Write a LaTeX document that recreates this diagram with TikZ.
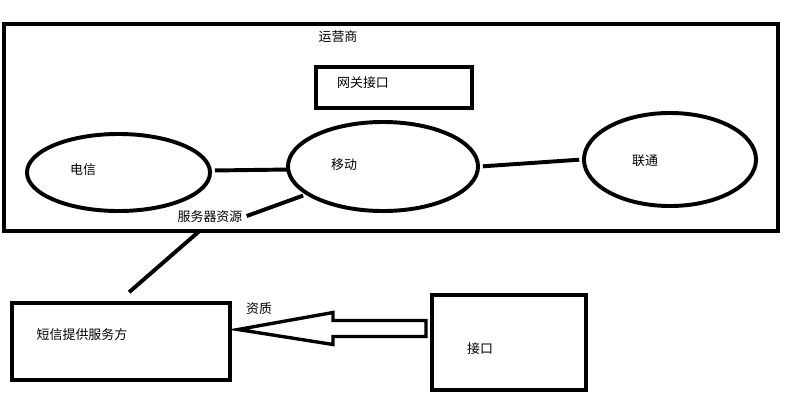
\documentclass[tikz,border=0pt]{standalone}
\usepackage{fontspec}
\setmainfont{Noto Sans CJK SC}
\usetikzlibrary{shapes.geometric,calc,positioning}

\begin{document}
\begin{tikzpicture}[
    x=0.025cm, y=-0.025cm,
    box/.style={draw, line width=2.8pt, inner sep=0pt},
    oval/.style={draw, ellipse, line width=2.8pt, inner sep=0pt},
    lbl/.style={font=\fontsize{9.2}{11}\selectfont, inner sep=1pt},
    conn/.style={line width=2.8pt, shorten <=2pt, shorten >=2pt},
    hollow/.style={draw, line width=2.4pt, line join=miter}
  ]
    \useasboundingbox (0,0) rectangle (800,408);

    \node[box, minimum width=19.35cm, minimum height=5.175cm] (op) at (391,127.5) {};
    \node[lbl] (opname) at (338,37) {运营商};

    \node[box, minimum width=3.9cm, minimum height=1.025cm] (gw) at (394,87.5) {};
    \node[lbl] (gwname) at (363,83) {网关接口};

    \node[oval, minimum width=4.575cm, minimum height=1.925cm] (dx) at (118.5,172.5) {};
    \node[lbl] (dxname) at (83,170) {电信};
    \node[oval, minimum width=4.75cm, minimum height=2.225cm] (yd) at (383,166.5) {};
    \node[lbl] (ydname) at (344,165) {移动};
    \node[oval, minimum width=4.3cm, minimum height=2.325cm] (lt) at (670,159.5) {};
    \node[lbl] (ltname) at (645,161) {联通};

    \node[lbl] (res) at (210,217) {服务器资源};

    \node[box, minimum width=5.45cm, minimum height=1.925cm] (sp) at (121,341.5) {};
    \node[lbl] (spname) at (82,335) {短信提供服务方};

    \node[box, minimum width=3.85cm, minimum height=2.375cm] (api) at (509,342.5) {};
    \node[lbl] (apiname) at (480,349) {接口};

    \node[lbl] (qual) at (259,309) {资质};

    \draw[conn] ($(dx.east)+(0,-2)$) -- ($(dx.east -| yd.west)+(4,-3)$);
    \draw[conn] (yd.east) -- (lt.west);
    \draw[conn] (yd.200) -- (res.east);
    \draw[conn] ($(res.south)+(-9,5)$) -- ($(sp.north)+(6,-7)$);

    \coordinate (tail) at ($(api.west)+(-4,-14)$);
    \coordinate (tip) at ($(sp.east)+(6,-12)$);
    \draw[hollow] (tip) -- ++(95,-17) -- ++(0,8) -- ($(tail)+(0,-8)$) -- ($(tail)+(0,8)$)
      -- ($(tip)+(95,7)$) -- ++(0,8) -- cycle;
  \end{tikzpicture}
\end{document}
